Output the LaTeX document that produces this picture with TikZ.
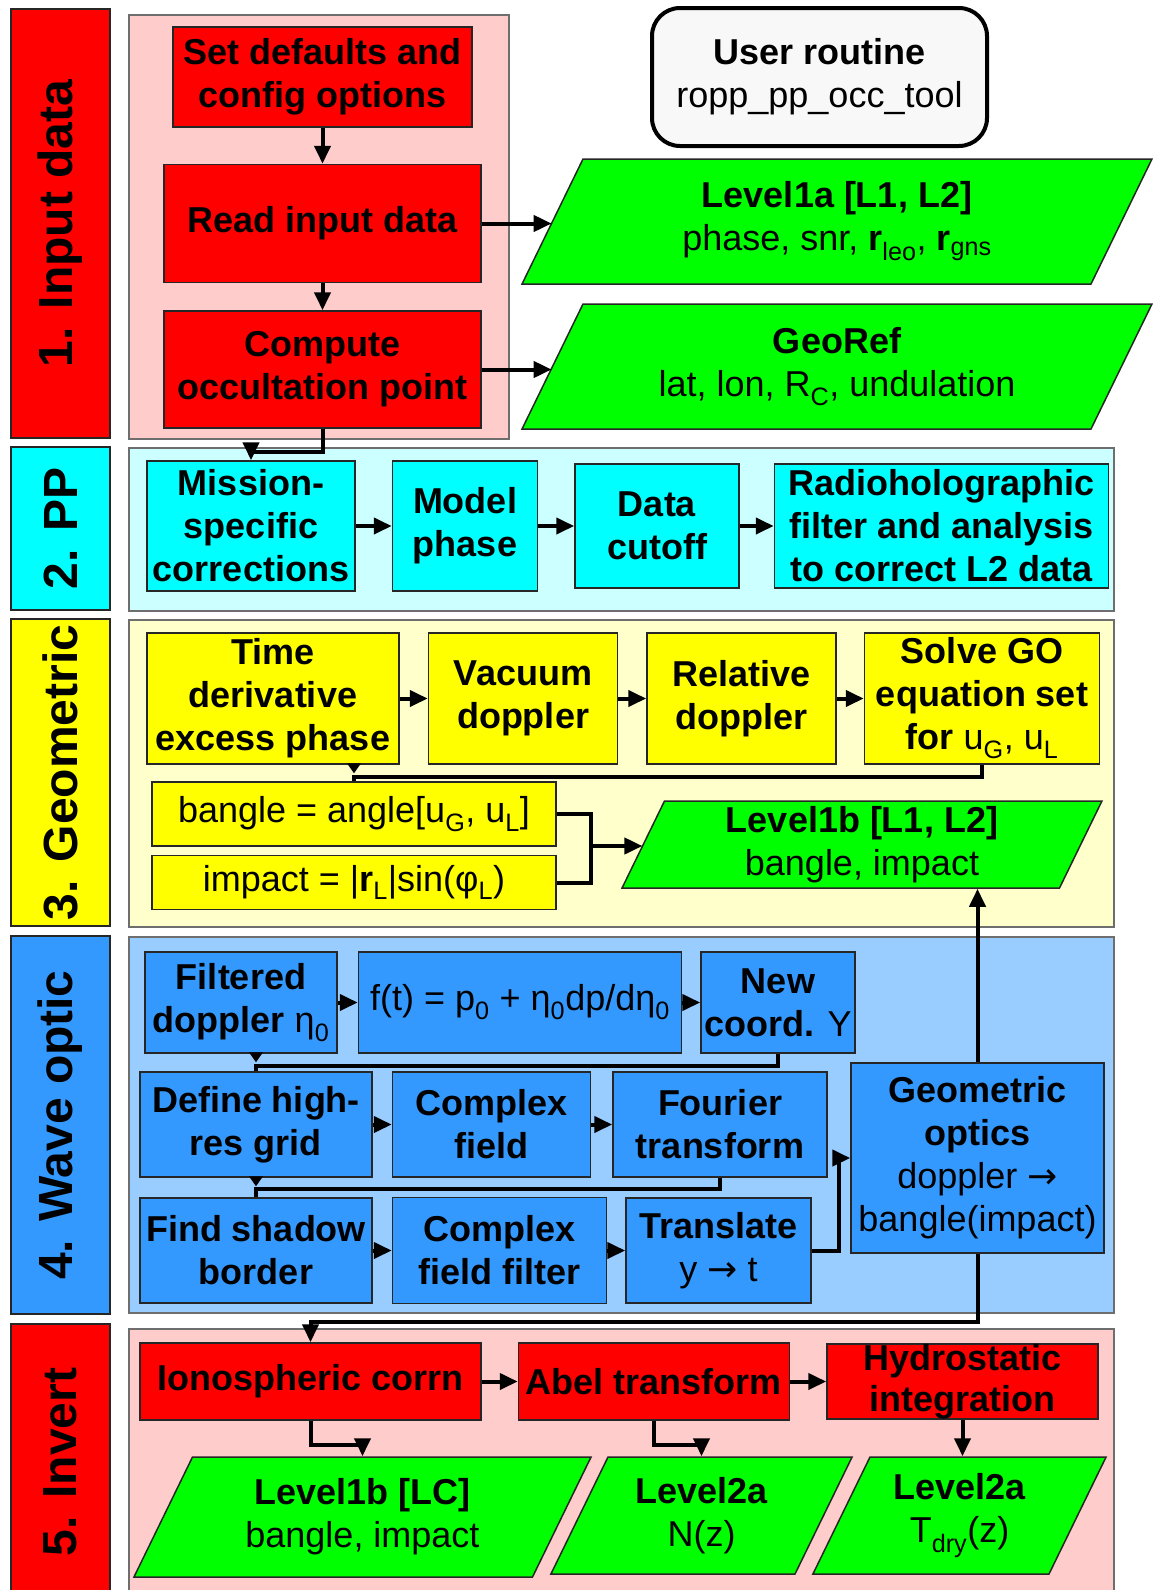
\documentclass[tikz,border=0pt]{standalone}
\usepackage{fontspec}
\setmainfont{Liberation Sans}
\newfontfamily\arrowfont{DejaVu Sans}
\usetikzlibrary{shapes.geometric, arrows.meta, positioning}
\definecolor{stepred}{RGB}{255, 0, 0}
\definecolor{lightred}{RGB}{255, 204, 204}
\definecolor{stepcyan}{RGB}{0, 255, 255}
\definecolor{lightcyan}{RGB}{204, 255, 255}
\definecolor{stepyellow}{RGB}{255, 255, 0}
\definecolor{lightyellow}{RGB}{255, 255, 204}
\definecolor{stepblue}{RGB}{51, 153, 255}
\definecolor{lightblue}{RGB}{153, 204, 255}
\definecolor{datagreen}{RGB}{0, 255, 0}
\definecolor{userfill}{RGB}{248, 248, 248}
\definecolor{edgegrey}{RGB}{110, 110, 110}

\begin{document}
\begin{tikzpicture}[
    x=1pt, y=-1pt,
    font=\fontsize{36}{43}\selectfont\bfseries,
    box/.style={rectangle, draw=black!85, line width=1.5pt, inner sep=2pt, text centered, align=center},
    panel/.style={rectangle, draw=edgegrey, line width=1.5pt, anchor=north west, inner sep=0pt},
    sidebar/.style={rectangle, draw=black!85, line width=1.5pt, rotate=90, minimum height=99pt, font=\fontsize{48}{58}\selectfont\bfseries},
    datanode/.style={trapezium, trapezium left angle=64, trapezium right angle=116,
        draw=black!85, line width=1.5pt, fill=datagreen, minimum width=0pt, minimum height=0pt},
    datatext/.style={align=center, inner sep=0pt},
    user/.style={rectangle, rounded corners=28pt, draw=black, line width=4pt, fill=userfill, align=center},
    wire/.style={line width=4pt},
    arrow/.style={-{Triangle[length=18pt, width=16pt]}, line width=4pt}
]
\useasboundingbox (0,0) rectangle (1152,1590);

% side bars and panels
\node[sidebar, fill=stepred, minimum width=429pt] (inbar) at (60.5,223.5) {1. Input data};
\node[sidebar, fill=stepcyan, minimum width=163pt] (ppbar) at (60.5,528.5) {2. PP};
\node[sidebar, fill=stepyellow, minimum width=307pt] (geobar) at (60.5,772.5) {3. Geometric};
\node[sidebar, fill=stepblue, minimum width=378pt] (wavebar) at (60.5,1125) {4. Wave optic};
\node[sidebar, fill=stepred, minimum width=276pt] (invbar) at (60.5,1462) {5. Invert};

\node[panel, fill=lightred, minimum width=380pt, minimum height=424pt] (inpanel) at (128,14) {};
\node[panel, fill=lightcyan, minimum width=985pt, minimum height=163pt] (pppanel) at (128,447) {};
\node[panel, fill=lightyellow, minimum width=985pt, minimum height=307pt] (geopanel) at (128,619) {};
\node[panel, fill=lightblue, minimum width=985pt, minimum height=376pt] (wavepanel) at (128,936) {};
\node[panel, fill=lightred, minimum width=985pt, minimum height=275pt] (invpanel) at (128,1328) {};

% 1. input data
\node[box, fill=stepred, minimum width=299pt, minimum height=100pt] (setdef) at (322.5,77) {Set defaults and\\config options};
\node[box, fill=stepred, minimum width=317pt, minimum height=118pt, below=36pt of setdef] (read) {Read input data};
\node[box, fill=stepred, minimum width=317pt, minimum height=117pt, below=27pt of read] (compute) {Compute\\occultation point};
\node[user, minimum width=335pt, minimum height=138pt] (routine) at (819.5,77) {User routine\\\mdseries ropp\_pp\_occ\_tool};
\node[datanode, inner xsep=254pt, inner ysep=62.5pt,
    label={[datatext]center:{Level1a [L1, L2]\\\mdseries phase, snr, \textbf{r}\textsubscript{leo}, \textbf{r}\textsubscript{gns}}}] (lvla) at (837,221.5) {};
\node[datanode, inner xsep=254pt, inner ysep=62.5pt,
    label={[datatext]center:{GeoRef\\\mdseries lat, lon, R\textsubscript{C}, undulation}}] (georef) at (837,366.5) {};

% 2. PP
\node[box, fill=stepcyan, minimum width=208pt, minimum height=130pt] (mission) at (251,526) {Mission-\\specific\\corrections};
\node[box, fill=stepcyan, minimum width=145pt, minimum height=130pt, right=36pt of mission] (model) {Model\\phase};
\node[box, fill=stepcyan, minimum width=164pt, minimum height=124pt, right=36pt of model] (cutoff) {Data\\cutoff};
\node[box, fill=stepcyan, minimum width=334pt, minimum height=124pt, right=34pt of cutoff] (radio) {Radioholographic\\filter and analysis\\to correct L2 data};

% 3. geometric
\node[box, fill=stepyellow, minimum width=252pt, minimum height=131pt] (timed) at (273,698.5) {Time\\derivative\\excess phase};
\node[box, fill=stepyellow, minimum width=189pt, minimum height=131pt, right=28pt of timed] (vacuum) {Vacuum\\doppler};
\node[box, fill=stepyellow, minimum width=189pt, minimum height=131pt, right=28pt of vacuum] (reldop) {Relative\\doppler};
\node[box, fill=stepyellow, minimum width=235pt, minimum height=131pt, right=27pt of reldop] (solvego) {Solve GO\\equation set\\for {\mdseries u\textsubscript{G}, u\textsubscript{L}}};
\node[box, fill=stepyellow, minimum width=404pt, minimum height=64pt] (bangle) at (354,814) {\mdseries bangle = angle[u\textsubscript{G}, u\textsubscript{L}]};
\node[box, fill=stepyellow, minimum width=404pt, minimum height=54pt, below=8pt of bangle] (impact) {\mdseries impact = |\textbf{r}\textsubscript{L}|sin(φ\textsubscript{L})};
\node[datanode, inner xsep=197.5pt, inner ysep=43.5pt,
    label={[datatext]center:{Level1b [L1, L2]\\\mdseries bangle, impact}}] (lvlb) at (862,844.5) {};

% 4. wave optic
\node[box, fill=stepblue, minimum width=192pt, minimum height=101pt] (filt) at (241,1002.5) {Filtered\\doppler {\mdseries η\textsubscript{0}}};
\node[box, fill=stepblue, minimum width=323pt, minimum height=101pt, right=20pt of filt] (fdef) {\mdseries f(t) = p\textsubscript{0} + η\textsubscript{0}dp/dη\textsubscript{0}};
\node[box, fill=stepblue, minimum width=154pt, minimum height=101pt, right=18pt of fdef] (newc) {New\\coord. {\mdseries Y}};
\node[box, fill=stepblue, minimum width=232pt, minimum height=105pt] (define) at (256,1124.5) {Define high-\\res grid};
\node[box, fill=stepblue, minimum width=198pt, minimum height=105pt, right=19pt of define] (cfield) {Complex\\field};
\node[box, fill=stepblue, minimum width=214pt, minimum height=105pt, right=21pt of cfield] (fourier) {Fourier\\transform};
\node[box, fill=stepblue, minimum width=232pt, minimum height=105pt] (shadow) at (256,1250.5) {Find shadow\\border};
\node[box, fill=stepblue, minimum width=214pt, minimum height=106pt, right=19pt of shadow] (cfilt) {Complex\\field filter};
\node[box, fill=stepblue, minimum width=185pt, minimum height=105pt, right=18pt of cfilt] (transl) {Translate\\{\mdseries y {\arrowfont →} t}};
\node[box, fill=stepblue, minimum width=253pt, minimum height=190pt] (geoopt) at (977.5,1158) {Geometric\\optics\\\mdseries doppler {\arrowfont →}\\\mdseries bangle(impact)};

% 5. invert
\node[box, fill=stepred, minimum width=341pt, minimum height=77pt] (iono) at (310.5,1381.5) {Ionospheric corrn};
\node[box, fill=stepred, minimum width=271pt, minimum height=77pt, right=36pt of iono] (abel) {Abel transform};
\node[box, fill=stepred, minimum width=271pt, minimum height=75pt, inner sep=0pt, right=36pt of abel, font=\fontsize{36}{41}\selectfont\bfseries] (hydro) {Hydrostatic\\integration};
\node[datanode, inner xsep=170pt, inner ysep=60pt,
    label={[datatext]center:{Level1b [LC]\\\mdseries bangle, impact}}] (lvlc) at (362.5,1517) {};
\node[datanode, inner xsep=93.5pt, inner ysep=58.5pt,
    label={[datatext]center:{Level2a\\\mdseries N(z)}}] (lvn) at (701.5,1515.5) {};
\node[datanode, inner xsep=89.5pt, inner ysep=58.5pt,
    label={[datatext]center:{Level2a\\\mdseries T\textsubscript{dry}(z)}}] (lvt) at (959.5,1515.5) {};

% connectors
\draw[arrow] (setdef) -- (read);
\draw[arrow] (read) -- (compute);
\draw[arrow] (read.east) -- (read.east -| lvla.west);
\draw[arrow] (compute.east) -- (compute.east -| georef.west);
\draw[arrow] (compute.south) -- ++(0,23) -| (mission.north);

\draw[arrow] (mission) -- (model);
\draw[arrow] (model) -- (cutoff);
\draw[arrow] (cutoff) -- (radio);

\draw[arrow] (timed) -- (vacuum);
\draw[arrow] (vacuum) -- (reldop);
\draw[arrow] (reldop) -- (solvego);
\draw[wire] (solvego.south) -- ++(0,12) -| (bangle.north);
\fill ([xshift=-7pt,yshift=18pt]bangle.north) -- ([xshift=7pt,yshift=18pt]bangle.north) -- ([yshift=8pt]bangle.north) -- cycle;
\coordinate (join) at (591,846);
\draw[wire] (bangle.east) -| (join) |- (impact.east);
\draw[arrow] (join) -- (join -| lvlb.west);

\draw[arrow] (filt) -- (fdef);
\draw[arrow] (fdef) -- (newc);
\draw[wire] (newc.south) -- ++(0,12) -| (define.north);
\fill ([xshift=-7pt,yshift=19pt]define.north) -- ([xshift=7pt,yshift=19pt]define.north) -- ([yshift=9pt]define.north) -- cycle;
\draw[arrow] (define) -- (cfield);
\draw[arrow] (cfield) -- (fourier);
\draw[wire] (fourier.south) -- ++(0,11) -| (shadow.north);
\fill ([xshift=-7pt,yshift=21pt]shadow.north) -- ([xshift=7pt,yshift=21pt]shadow.north) -- ([yshift=11pt]shadow.north) -- cycle;
\draw[arrow] (shadow) -- (cfilt);
\draw[arrow] (cfilt) -- (transl);
\draw[arrow] (transl.east) -- ++(27,0) |- (geoopt.west);
\draw[arrow] (geoopt.north) -- (geoopt.north |- lvlb.south);
\draw[arrow] (geoopt.south) -- ++(0,68) -| (iono.north);

\draw[arrow] (iono) -- (abel);
\draw[arrow] (abel) -- (hydro);
\draw[arrow] (iono.south) -- ++(0,24) -| (lvlc.north);
\draw[arrow] (abel.south) -- ++(0,24) -| (lvn.north);
\draw[arrow] (hydro.south) -- (hydro.south |- lvt.north);

\end{tikzpicture}
\end{document}
